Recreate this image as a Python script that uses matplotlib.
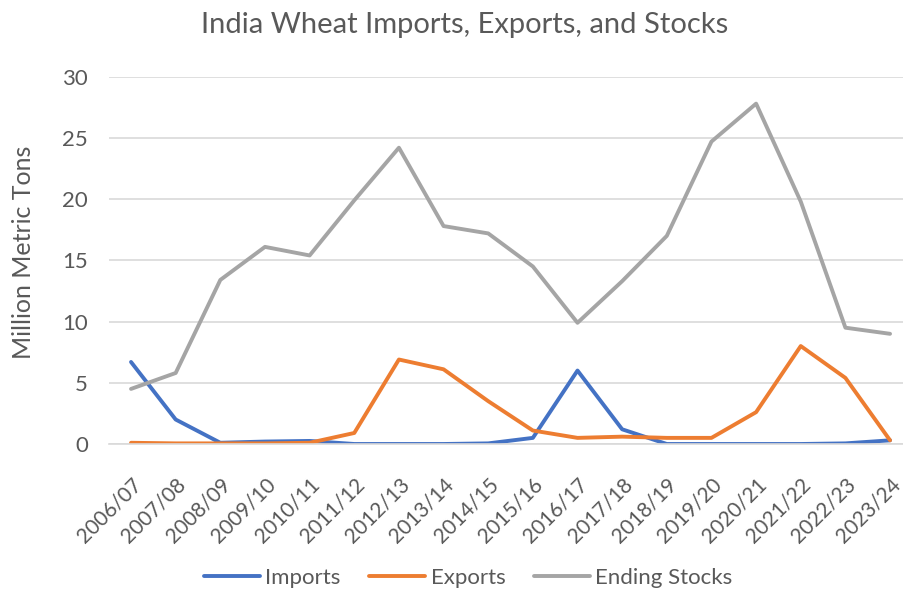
import matplotlib
matplotlib.use('Agg')
import matplotlib.pyplot as plt

TEXT_COLOR = '#595959'
GRID_COLOR = '#D9D9D9'

years = ['2006/07', '2007/08', '2008/09', '2009/10', '2010/11', '2011/12',
         '2012/13', '2013/14', '2014/15', '2015/16', '2016/17', '2017/18',
         '2018/19', '2019/20', '2020/21', '2021/22', '2022/23', '2023/24']
imports = [6.7, 2.0, 0.1, 0.2, 0.25, 0.0, 0.0, 0.0, 0.05, 0.5, 6.0, 1.2,
           0.0, 0.0, 0.0, 0.0, 0.05, 0.3]
exports = [0.1, 0.05, 0.05, 0.05, 0.1, 0.9, 6.9, 6.1, 3.5, 1.1, 0.5, 0.6,
           0.5, 0.5, 2.6, 8.0, 5.4, 0.3]
ending_stocks = [4.5, 5.8, 13.4, 16.1, 15.4, 19.9, 24.2, 17.8, 17.2, 14.5,
                 9.9, 13.3, 17.0, 24.7, 27.8, 19.8, 9.5, 9.0]

plt.rcParams['font.family'] = ['Lato', 'DejaVu Sans']

fig = plt.figure(figsize=(9.04, 5.89), dpi=100)
ax = fig.add_axes([108.7 / 904, 145 / 589, (904 - 108.7) / 904, (444 - 76.7) / 589])

x = range(len(years))
ax.plot(x, imports, color='#4472C4', lw=2.8, label='Imports', solid_capstyle='round')
ax.plot(x, exports, color='#ED7D31', lw=2.8, label='Exports', solid_capstyle='round')
ax.plot(x, ending_stocks, color='#A5A5A5', lw=2.8, label='Ending Stocks',
        solid_capstyle='round')

ax.set_xlim(-0.5, (904 - 131) / 44.65)
ax.set_ylim(0, 30)
ax.set_yticks(range(0, 31, 5))
ax.set_xticks(list(x))
ax.set_xticklabels(years, rotation=45, ha='right', rotation_mode='anchor')

ax.grid(axis='y', color=GRID_COLOR, lw=1.2)
ax.set_axisbelow(True)
for side in ['top', 'right', 'left']:
    ax.spines[side].set_visible(False)
ax.spines['bottom'].set_color(GRID_COLOR)
ax.spines['bottom'].set_linewidth(1.2)
ax.tick_params(length=0, colors=TEXT_COLOR)
ax.tick_params(axis='y', labelsize=16, pad=15)
ax.tick_params(axis='x', labelsize=15, pad=22)

fig.text(24 / 904, 1 - 252 / 589, 'Million Metric Tons', rotation=90,
         ha='center', va='center', fontsize=18, color=TEXT_COLOR)
fig.text(0.514, 1 - 25 / 589, 'India Wheat Imports, Exports, and Stocks',
         ha='center', va='center', fontsize=21, color=TEXT_COLOR)

fig.legend(loc='center', bbox_to_anchor=(0.518, 1 - 578 / 589), ncol=3,
           frameon=False, fontsize=16, labelcolor=TEXT_COLOR,
           handlelength=2.5, columnspacing=1.3, handletextpad=0.25)

plt.savefig('out.png', dpi=100)
